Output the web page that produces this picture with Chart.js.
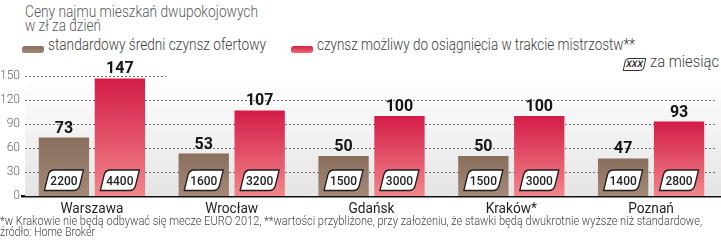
<!DOCTYPE html>
<html lang="pl">
<head>
<meta charset="utf-8">
<script src="https://cdn.jsdelivr.net/npm/chart.js@4"></script>
<style>
  html, body { margin: 0; padding: 0; background: #fff; }
  body { width: 721px; height: 246px; position: relative; overflow: hidden;
         font-family: Roboto, sans-serif; font-weight: 300; color: #555; }
  #chartBox { position: absolute; left: 0; top: 0; width: 721px; height: 246px; }
  .txt { position: absolute; white-space: nowrap; transform-origin: 0 0; display: inline-block; }
  .title { left: 25px; font-size: 17px; line-height: 17px; color: #5a5a5a; }
  .leg { top: 36.5px; font-size: 16px; line-height: 16px; color: #3c3c3c; }
  .sw { position: absolute; top: 46px; width: 22px; height: 7px; border-radius: 3px 2px 3px 2px; }
  .xxx { position: absolute; left: 624px; top: 57.5px; width: 19px; height: 11px; border: 1px solid #333;
         border-radius: 4px 1px 4px 1px; transform: skewX(-12deg); font-size: 9px; font-weight: 500;
         color: #222; text-align: center; line-height: 11px; }
  .foot { left: 0; font-size: 12px; line-height: 12px; color: #444; }
</style>
</head>
<body>
<div class="txt title fit" data-w="233" style="top:2.7px">Ceny najmu mieszkań dwupokojowych</div>
<div class="txt title fit" data-w="76" style="top:16.7px">w zł za dzień</div>
<div class="sw" style="left:22px;background:linear-gradient(#8c7060,#a08474)"></div>
<div class="txt leg fit" data-w="218" style="left:48px">standardowy średni czynsz ofertowy</div>
<div class="sw" style="left:291px;background:linear-gradient(#d52049,#ee6a72)"></div>
<div class="txt leg fit" data-w="318" style="left:317px">czynsz możliwy do osiągnięcia w trakcie mistrzostw**</div>
<div class="xxx">XXX</div>
<div class="txt fit" data-w="69" style="left:650px;top:53.5px;font-size:16px;line-height:16px;color:#3c3c3c">za miesiąc</div>
<div id="chartBox"><canvas id="rentChart" width="721" height="246"></canvas></div>
<div class="txt foot fit" data-w="702" style="top:215.4px">*w Krakowie nie będą odbywać się mecze EURO 2012, **wartości przybliżone, przy założeniu, że stawki będą dwukrotnie wyższe niż standardowe,</div>
<div class="txt foot fit" data-w="95" style="top:226.4px">źródło: Home Broker</div>

<script>
// dane
const cities = ['Warszawa', 'Wrocław', 'Gdańsk', 'Kraków*', 'Poznań'];
const standardDaily = [73, 53, 50, 50, 47];
const championshipDaily = [147, 107, 100, 100, 93];
const standardMonthly = [2200, 1600, 1500, 1500, 1400];
const championshipMonthly = [4400, 3200, 3000, 3000, 2800];
const yTicks = [0, 30, 60, 90, 120, 150];

const FONT = 'Roboto, sans-serif';

// squeeze html labels to the reference widths
function fitTexts() {
    document.querySelectorAll('.fit').forEach(el => {
        const natural = el.getBoundingClientRect().width;
        const target = parseFloat(el.dataset.w);
        if (natural > 0) el.style.transform = 'scaleX(' + (target / natural) + ')';
    });
}

// gradient per bar
function barGradient(top, bottom) {
    return function (context) {
        const chart = context.chart;
        const y = chart.scales.y;
        if (!y || !context.parsed) return top;
        const yTop = y.getPixelForValue(context.parsed.y);
        const yBot = y.getPixelForValue(0);
        if (!isFinite(yTop) || !isFinite(yBot) || yBot <= yTop) return top;
        const g = chart.ctx.createLinearGradient(0, yTop, 0, yBot);
        g.addColorStop(0, top);
        g.addColorStop(1, bottom);
        return g;
    };
}

// background + dotted grid
const backdrop = {
    id: 'backdrop',
    beforeDatasetsDraw(chart) {
        const { ctx, chartArea: a, scales: { y } } = chart;
        ctx.save();
        const g = ctx.createLinearGradient(0, a.top, 0, a.bottom);
        g.addColorStop(0, '#ffffff');
        g.addColorStop(1, '#e4e4e4');
        ctx.fillStyle = g;
        ctx.fillRect(a.left + 3, a.top, a.right - a.left - 3, a.bottom - a.top);
        ctx.strokeStyle = '#6e6e6e';
        ctx.lineWidth = 1;
        ctx.setLineDash([2, 2]);
        yTicks.forEach(v => {
            if (v === 0) return;
            const py = Math.round(y.getPixelForValue(v)) + 0.5;
            ctx.beginPath();
            ctx.moveTo(a.left + 3, py);
            ctx.lineTo(v === 150 ? 166 : a.right - 5, py);
            ctx.stroke();
        });
        ctx.restore();
    }
};

function skewBox(ctx, cx, top, w, h, skew) {
    const l = cx - w / 2, r = cx + w / 2, b = top + h, rad = 5;
    ctx.beginPath();
    ctx.moveTo(l + skew + rad, top);
    ctx.lineTo(r + skew, top);
    ctx.lineTo(r - skew + 1.2, b - rad);
    ctx.quadraticCurveTo(r - skew, b, r - skew - rad, b);
    ctx.lineTo(l - skew, b);
    ctx.lineTo(l + skew - 1.2, top + rad);
    ctx.quadraticCurveTo(l + skew, top, l + skew + rad, top);
    ctx.closePath();
}

// value labels, monthly boxes, category names
const labels = {
    id: 'labels',
    afterDatasetsDraw(chart) {
        const ctx = chart.ctx;
        const monthly = [standardMonthly, championshipMonthly];
        ctx.save();
        ctx.textAlign = 'center';
        chart.data.datasets.forEach((ds, di) => {
            chart.getDatasetMeta(di).data.forEach((bar, i) => {
                ctx.fillStyle = '#141414';
                ctx.font = 'bold 16px ' + FONT;
                ctx.textBaseline = 'alphabetic';
                ctx.fillText(ds.data[i], bar.x, bar.y - 5);

                skewBox(ctx, bar.x, 170, 34, 20.5, 2.5);
                ctx.fillStyle = '#ffffff';
                ctx.fill();
                ctx.strokeStyle = '#1e1e1e';
                ctx.lineWidth = 1.3;
                ctx.stroke();

                ctx.save();
                ctx.translate(bar.x, 185);
                ctx.scale(0.92, 1);
                ctx.fillStyle = '#222';
                ctx.font = '500 13px ' + FONT;
                ctx.fillText(monthly[di][i], 0, 0);
                ctx.restore();
            });
        });

        // category names under the axis
        const x = chart.scales.x;
        ctx.font = '400 15px ' + FONT;
        const squeeze = 63 / ctx.measureText(cities[0]).width;
        ctx.fillStyle = '#1e1e1e';
        cities.forEach((c, i) => {
            ctx.save();
            ctx.translate(x.getPixelForValue(i), 213);
            ctx.scale(squeeze, 1);
            ctx.fillText(c, 0, 0);
            ctx.restore();
        });
        ctx.restore();
    }
};

function drawChart() {
    fitTexts();
    new Chart(document.getElementById('rentChart').getContext('2d'), {
        type: 'bar',
        data: {
            labels: cities,
            datasets: [{
                label: 'standardowy średni czynsz ofertowy',
                data: standardDaily,
                backgroundColor: barGradient('#896d5d', '#a38878'),
                barPercentage: 0.9,
                categoryPercentage: 0.8
            }, {
                label: 'czynsz możliwy do osiągnięcia w trakcie mistrzostw**',
                data: championshipDaily,
                backgroundColor: barGradient('#d31c47', '#f2868a'),
                barPercentage: 0.9,
                categoryPercentage: 0.8
            }]
        },
        options: {
            responsive: false,
            animation: false,
            layout: { padding: { top: 76, left: 0, right: 0, bottom: 0 } },
            plugins: { legend: { display: false }, tooltip: { enabled: false } },
            scales: {
                y: {
                    min: 0,
                    max: 150,
                    afterFit: s => { s.width = 22; },
                    afterBuildTicks: s => { s.ticks = yTicks.map(v => ({ value: v })); },
                    ticks: { color: '#666', font: { family: FONT, size: 12, weight: 300 }, padding: 2 },
                    grid: { display: false, drawTicks: false, tickLength: 0 },
                    border: { display: false }
                },
                x: {
                    afterFit: s => { s.height = 50; },
                    ticks: { display: false },
                    grid: { display: false },
                    border: { display: true, color: '#111', width: 2.5 }
                }
            }
        },
        plugins: [backdrop, labels]
    });
}

if (document.fonts && document.fonts.ready) {
    document.fonts.load('16px Roboto').then(() => document.fonts.ready).then(drawChart, drawChart);
} else {
    drawChart();
}
</script>
</body>
</html>
